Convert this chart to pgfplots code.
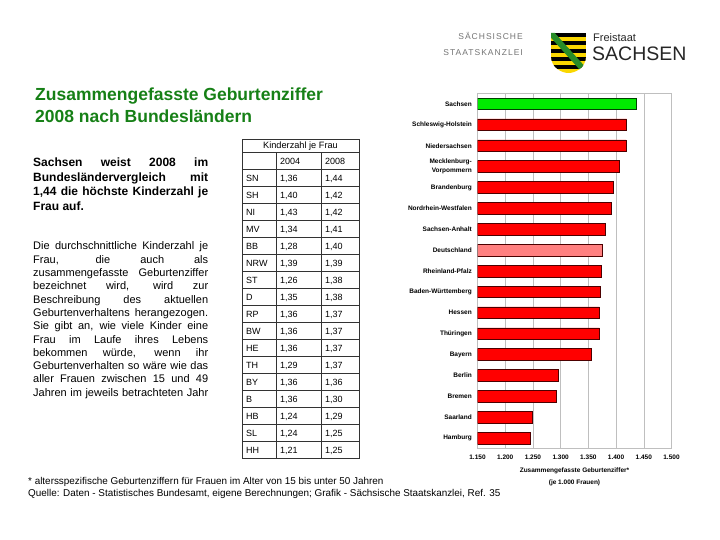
\documentclass[border=0pt]{standalone}
\usepackage{pgfplots}
\pgfplotsset{compat=1.18}
\usepackage{fontspec}
\setmainfont{Liberation Sans}
\newfontfamily\logofont[LetterSpace=12]{Liberation Sans}
\definecolor{titlegreen}{RGB}{22,128,22}
\definecolor{barred}{RGB}{255,0,0}
\definecolor{bargreen}{RGB}{0,235,0}
\definecolor{barpink}{RGB}{255,128,128}
\definecolor{shieldgold}{RGB}{250,215,0}
\definecolor{shieldgreen}{RGB}{40,140,40}
\newcommand{\fs}[1]{\fontsize{#1}{#1}\selectfont}
\newcommand{\jl}[1]{\makebox[175pt][s]{#1}}
\begin{document}
\begin{tikzpicture}[x=1pt,y=1pt]
\path[use as bounding box] (0,0) rectangle (720,540);
% ---------------- logo ----------------
\node[anchor=base east, inner sep=0, text=black!55, font=\logofont\fs{8.5}] at (523,540-40) {SÄCHSISCHE};
\node[anchor=base east, inner sep=0, text=black!55, font=\logofont\fs{8.5}] at (523,540-56) {STAATSKANZLEI};
\begin{scope}
\clip (551,507) -- (586,507) -- (586,484) .. controls (586,472) and (575,467) .. (568.5,467) .. controls (562,467) and (551,472) .. (551,484) -- cycle;
\fill[shieldgold] (551,467) rectangle (586,507);
\foreach \k in {0,2,4,6,8} {\fill[black] (551,507-4*\k) rectangle (586,503-4*\k);}
\draw[shieldgreen, line width=6pt] (549,509) -- (584,470);
\end{scope}
\node[anchor=base west, inner sep=0, text=black!85, font=\fs{11}] at (593,540-42) {Freistaat};
\node[anchor=base west, inner sep=0, text=black!85, font=\fs{19.5}] at (592,540-61) {SACHSEN};
% ---------------- title ----------------
\node[anchor=base west, inner sep=0, text=titlegreen, font=\fs{17.5}\bfseries] at (35,540-100.8) {Zusammengefasste Geburtenziffer};
\node[anchor=base west, inner sep=0, text=titlegreen, font=\fs{17.5}\bfseries] at (35,540-122.5) {2008 nach Bundesländern};
% ---------------- left text ----------------
\begin{scope}[every node/.style={anchor=base west, inner sep=0, font=\fs{12}\bfseries}]
\node at (33,540-166.5) {\jl{Sachsen weist 2008 im}};
\node at (33,540-181.2) {\jl{Bundesländervergleich mit}};
\node at (33,540-195.9) {\jl{1,44 die höchste Kinderzahl je}};
\node at (33,540-210.6) {Frau auf.};
\end{scope}
\begin{scope}[every node/.style={anchor=base west, inner sep=0, font=\fs{11}}]
\node at (33,540-250.0) {\jl{Die durchschnittliche Kinderzahl je}};
\node at (33,540-263.3) {\jl{Frau, die auch als}};
\node at (33,540-276.6) {\jl{zusammengefasste Geburtenziffer}};
\node at (33,540-289.9) {\jl{bezeichnet wird, wird zur}};
\node at (33,540-303.2) {\jl{Beschreibung des aktuellen}};
\node at (33,540-316.5) {\jl{Geburtenverhaltens herangezogen.}};
\node at (33,540-329.8) {\jl{Sie gibt an, wie viele Kinder eine}};
\node at (33,540-343.1) {\jl{Frau im Laufe ihres Lebens}};
\node at (33,540-356.4) {\jl{bekommen würde, wenn ihr}};
\node at (33,540-369.7) {\jl{Geburtenverhalten so wäre wie das}};
\node at (33,540-383.0) {\jl{aller Frauen zwischen 15 und 49}};
\node at (33,540-396.3) {\jl{Jahren im jeweils betrachteten Jahr}};
\end{scope}
% ---------------- table ----------------
\draw[black!80, line width=0.6pt] (242,540-139) rectangle (359,540-458.7);
\draw[black!80, line width=0.6pt] (242,540-152.5) -- (359,540-152.5);
\foreach \k in {0,...,16} {\draw[black!80, line width=0.6pt] (242,540-169.7-17*\k) -- (359,540-169.7-17*\k);}
\draw[black!80, line width=0.6pt] (276,540-152.5) -- (276,540-458.7);
\draw[black!80, line width=0.6pt] (321,540-152.5) -- (321,540-458.7);
\node[anchor=base, inner sep=0, font=\fs{9.2}] at (300.5,540-149) {Kinderzahl je Frau};
\node[anchor=base west, inner sep=0, font=\fs{9}] at (280,540-165) {2004};
\node[anchor=base west, inner sep=0, font=\fs{9}] at (325,540-165) {2008};
\foreach \lab/\a/\b [count=\i from 0] in {{SN/1,36/1,44}, {SH/1,40/1,42}, {NI/1,43/1,42}, {MV/1,34/1,41}, {BB/1,28/1,40}, {NRW/1,39/1,39}, {ST/1,26/1,38}, {D/1,35/1,38}, {RP/1,36/1,37}, {BW/1,36/1,37}, {HE/1,36/1,37}, {TH/1,29/1,37}, {BY/1,36/1,36}, {B/1,36/1,30}, {HB/1,24/1,29}, {SL/1,24/1,25}, {HH/1,21/1,25}} {
  \node[anchor=base west, inner sep=0, font=\fs{9}] at (246,540-181.5-17*\i) {\lab};
  \node[anchor=base west, inner sep=0, font=\fs{9}] at (280,540-181.5-17*\i) {\a};
  \node[anchor=base west, inner sep=0, font=\fs{9}] at (325,540-181.5-17*\i) {\b};
}
% ---------------- footnote ----------------
\node[anchor=base west, inner sep=0, font=\fs{9.9}] at (28,540-484.5) {* altersspezifische Geburtenziffern für Frauen im Alter von 15 bis unter 50 Jahren};
\node[anchor=base west, inner sep=0, font=\fs{9.9}] at (28,540-496.5) {Quelle: Daten - Statistisches Bundesamt, eigene Berechnungen; Grafik - Sächsische Staatskanzlei, Ref. 35};
% ---------------- bar chart ----------------
\begin{axis}[at={(477.5pt,91.7pt)}, anchor=south west,
  width=194pt, height=355pt, scale only axis,
  xmin=1150, xmax=1500, ymin=-0.51, ymax=16.49, y dir=reverse,
  xtick={1150,1200,1250,1300,1350,1400,1450,1500},
  xmajorgrids, major grid style={black!25, line width=0.5pt},
  axis line style={black!25, line width=0.5pt},
  major tick length=0pt,
  /pgf/number format/assume math mode=true,
  /pgf/number format/1000 sep={.},
  xticklabel style={font=\fs{6.5}\bfseries, inner sep=0pt, yshift=-6pt},
  ytick={0,...,16},
  yticklabels={Sachsen, Schleswig-Holstein, Niedersachsen, {Mecklenburg-\\Vorpommern}, Brandenburg, Nordrhein-Westfalen, Sachsen-Anhalt, Deutschland, Rheinland-Pfalz, Baden-Württemberg, Hessen, Thüringen, Bayern, Berlin, Bremen, Saarland, Hamburg},
  yticklabel style={font=\fontsize{6.5}{9}\selectfont\bfseries, align=right, inner sep=0pt, xshift=-5.5pt},
  xlabel={Zusammengefasste Geburtenziffer*\\(je 1.000 Frauen)},
  xlabel style={font=\fontsize{6.5}{12}\selectfont\bfseries, align=center, inner sep=0pt, yshift=-8pt},
  xbar, bar width=11.7pt,
  clip=true,
]
\addplot[bar shift=0pt, fill=bargreen, draw=black!75!green, line width=0.6pt] coordinates {(1437,0)};
\addplot[bar shift=0pt, fill=barred, draw=black!70!red, line width=0.6pt] coordinates {
(1419,1) (1418,2) (1405,3) (1395,4) (1391,5) (1381,6)
(1374,8) (1372,9) (1370,10) (1370,11) (1356,12) (1296,13) (1292,14) (1249,15) (1246,16)};
\addplot[bar shift=0pt, fill=barpink, draw=black!70!red, line width=0.6pt] coordinates {(1375,7)};
\end{axis}
\end{tikzpicture}
\end{document}
